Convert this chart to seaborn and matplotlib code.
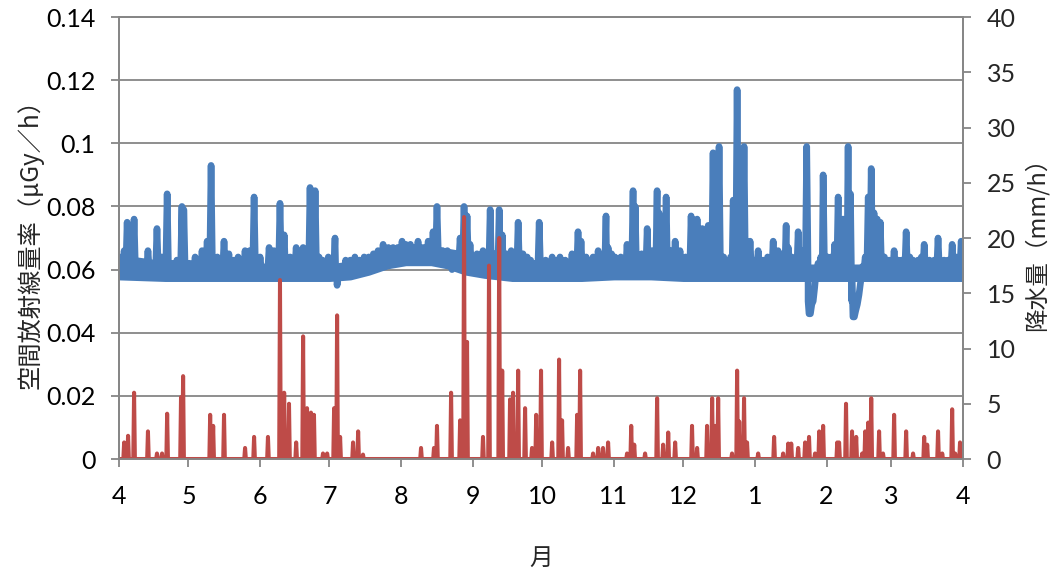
import numpy as np
import pandas as pd
import matplotlib
matplotlib.use('Agg')
import matplotlib.pyplot as plt
import seaborn as sns

sns.set_style('white')
plt.rcParams['font.family'] = ['Lato', 'Noto Sans CJK JP', 'DejaVu Sans']

BLUE = '#4a7ebb'
RED = '#be4b48'
GREY = '#868686'
JP = ['Noto Sans CJK JP', 'DejaVu Sans']

# x axis: days counted from 1 April, one tick per month start
start = pd.Timestamp('2012-04-01')
month_starts = pd.date_range(start, '2013-04-01', freq='MS')
month_days = list((month_starts - start).days)
month_labels = [str(m) for m in month_starts.month]

# air dose rate (uGy/h): spikes (day, peak)
rad_day = [2.2, 3.5, 6.5, 12.5, 16.4, 20.8, 27.2, 28.0, 32.9, 35.9, 38.1, 39.8,
           45.4, 49.7, 54.5, 58.4, 64.9, 69.6, 71.4, 76.6, 79.6, 82.6, 84.8, 88.0,
           93.4, 94.3, 98.0, 102.0, 106.0, 110.0, 114.2, 118.5, 122.4, 126.0, 129.3,
           133.7, 135.8, 137.5, 142.0, 144.0, 147.5, 149.2, 150.5, 151.8, 154.8,
           157.4, 160.5, 164.4, 165.7, 169.6, 172.6, 174.7, 178.0, 181.7, 187.3,
           190.7, 195.9, 198.5, 199.8, 205.0, 207.2, 210.6, 211.5, 214.5, 219.7,
           222.3, 223.2, 228.4, 232.7, 233.5, 236.6, 240.5, 242.6, 247.4, 250.0,
           252.2, 254.8, 256.9, 259.5, 263.0, 265.6, 267.3, 270.3, 272.9, 276.4,
           282.9, 285.0, 288.5, 289.4, 293.7, 297.4, 302.3, 304.5, 308.0, 311.0,
           313.1, 315.3, 316.3, 322.7, 324.0, 325.3, 327.9, 329.2, 335.2, 340.4,
           343.4, 348.2, 354.2, 356.8, 360.3, 364.2]
rad_peak = [0.066, 0.075, 0.076, 0.066, 0.073, 0.084, 0.080, 0.079, 0.064, 0.066, 0.069, 0.093,
            0.069, 0.063, 0.066, 0.083, 0.067, 0.081, 0.071, 0.067, 0.067, 0.086, 0.085, 0.063,
            0.070, 0.055, 0.063, 0.064, 0.064, 0.065, 0.068, 0.067, 0.069, 0.068, 0.069,
            0.069, 0.072, 0.080, 0.066, 0.060, 0.070, 0.080, 0.077, 0.068, 0.065,
            0.066, 0.079, 0.079, 0.071, 0.066, 0.075, 0.065, 0.063, 0.075, 0.064,
            0.064, 0.065, 0.072, 0.069, 0.064, 0.066, 0.077, 0.067, 0.064, 0.068,
            0.085, 0.080, 0.073, 0.085, 0.078, 0.083, 0.069, 0.066, 0.077, 0.076,
            0.073, 0.074, 0.097, 0.099, 0.062, 0.082, 0.117, 0.099, 0.069, 0.066,
            0.069, 0.066, 0.074, 0.067, 0.072, 0.099, 0.062, 0.090, 0.064, 0.083,
            0.076, 0.099, 0.084, 0.064, 0.083, 0.092, 0.076, 0.075, 0.066, 0.072,
            0.063, 0.068, 0.070, 0.063, 0.068, 0.069]

# small bumps that make the everyday band ragged
bump_day = [1.0, 5.0, 8.5, 10.5, 14.5, 18.5, 23.0, 25.0, 30.5, 34.3, 42.5, 47.5,
            51.5, 56.5, 61.0, 67.0, 74.0, 78.0, 81.0, 86.5, 90.5, 96.5, 100.0, 104.0,
            108.0, 112.0, 116.5, 120.5, 124.0, 128.0, 131.5, 140.0, 146.0, 153.0,
            156.0, 159.0, 162.5, 167.5, 171.0, 176.5, 180.0, 184.5, 189.0, 193.0,
            197.0, 202.0, 209.0, 213.0, 217.0, 221.0, 226.0, 230.5, 235.0, 238.5,
            245.0, 248.8, 253.5, 258.0, 261.5, 264.5, 269.0, 274.5, 278.5, 280.5,
            283.8, 287.0, 291.0, 295.5, 303.5, 306.5, 309.5, 312.0, 314.2, 321.5,
            326.5, 331.0, 333.0, 337.0, 338.5, 342.0, 345.5, 347.0, 350.5, 352.5,
            358.5, 362.0]
bump_val = [0.064, 0.063, 0.061, 0.062, 0.062, 0.064, 0.062, 0.063, 0.062, 0.063, 0.064, 0.065,
            0.064, 0.066, 0.064, 0.066, 0.064, 0.065, 0.064, 0.064, 0.064, 0.061, 0.063, 0.063,
            0.064, 0.066, 0.067, 0.067, 0.068, 0.067, 0.067, 0.066, 0.065, 0.064,
            0.063, 0.064, 0.065, 0.065, 0.063, 0.064, 0.062, 0.063, 0.063, 0.063,
            0.063, 0.064, 0.064, 0.065, 0.064, 0.067, 0.065, 0.066, 0.068, 0.066,
            0.064, 0.066, 0.066, 0.066, 0.064, 0.064, 0.068, 0.063, 0.063, 0.064,
            0.064, 0.065, 0.064, 0.066, 0.064, 0.064, 0.068, 0.070, 0.072, 0.061,
            0.078, 0.064, 0.063, 0.063, 0.063, 0.064, 0.063, 0.064, 0.063, 0.063,
            0.063, 0.064]

# winter dips below the usual level
dip_day = [298.0, 298.4, 299.0, 299.6, 300.2, 300.8, 301.3,
           316.9, 317.4, 318.0, 318.6, 319.3, 320.0, 320.7]
dip_val = [0.050, 0.046, 0.046, 0.049, 0.050, 0.054, 0.058,
           0.050, 0.045, 0.045, 0.047, 0.049, 0.052, 0.056]

# usual level the spikes start from, by season (step changes)
base_start = [0, 105, 116, 142, 158]
base_val = [0.0595, 0.061, 0.0645, 0.062, 0.0595]

# spread of the hourly noise band
band_day = [0, 20, 45, 70, 91, 100, 108, 116, 124, 135, 142, 150, 158, 170,
            185, 200, 214, 230, 244, 260, 275, 290, 306, 320, 334, 350, 365]
band_lo = [0.0575, 0.057, 0.057, 0.057, 0.057, 0.0575, 0.059, 0.061, 0.062, 0.062,
           0.061, 0.059, 0.058, 0.057, 0.057, 0.057, 0.0575, 0.0575, 0.057, 0.057,
           0.057, 0.057, 0.057, 0.057, 0.057, 0.057, 0.057]
band_hi = [0.064, 0.062, 0.062, 0.061, 0.061, 0.062, 0.064, 0.066, 0.067, 0.067,
           0.066, 0.065, 0.063, 0.062, 0.062, 0.062, 0.063, 0.063, 0.062, 0.062,
           0.062, 0.061, 0.061, 0.061, 0.060, 0.060, 0.060]

# precipitation (mm/h): rain events (day, peak)
rain_day = [2.2, 3.9, 6.5, 12.5, 16.4, 18.6, 20.8, 26.8, 27.7, 39.4, 40.7, 45.4,
            54.5, 58.4, 64.4, 69.6, 71.4, 73.5, 76.6, 79.6, 81.3, 83.0, 84.3, 88.2,
            90.0, 93.0, 94.3, 95.6, 101.2, 103.4, 105.5, 130.6, 136.2, 137.5, 143.6,
            147.5, 149.2, 150.5, 157.4, 160.0, 164.4, 165.7, 169.1, 170.4, 172.6,
            175.6, 178.6, 180.4, 182.5, 187.3, 190.3, 191.6, 194.2, 198.1, 199.4,
            205.0, 207.2, 209.3, 211.5, 219.7, 221.5, 222.8, 227.5, 232.7, 235.3,
            237.5, 240.5, 247.8, 250.0, 254.3, 256.5, 257.8, 259.1, 265.1, 267.3,
            268.2, 270.3, 271.6, 276.4, 283.3, 287.2, 289.4, 290.7, 293.7, 296.7,
            298.4, 301.0, 302.8, 304.5, 310.6, 311.4, 314.4, 317.0, 318.8, 321.4,
            322.7, 324.0, 325.3, 328.7, 330.4, 335.2, 340.4, 343.4, 348.2, 349.5,
            354.2, 356.0, 360.3, 361.6, 363.7]
rain_val = [1.5, 2.1, 6.0, 2.5, 0.5, 0.5, 4.1, 5.6, 7.5, 4.0, 3.0, 4.0,
            1.0, 2.0, 2.0, 16.2, 6.0, 5.0, 1.5, 11.1, 4.6, 4.2, 4.0, 0.5,
            0.5, 4.6, 13.0, 2.0, 1.5, 2.5, 0.4, 1.0, 1.0, 3.0, 6.0,
            3.5, 21.9, 10.6, 2.0, 17.5, 20.0, 8.0, 5.4, 6.0, 8.0,
            4.6, 1.0, 4.0, 8.0, 1.5, 9.0, 3.5, 1.0, 4.0, 8.0,
            0.5, 1.0, 1.0, 1.5, 0.5, 3.0, 1.3, 0.5, 5.5, 1.3,
            2.4, 1.5, 3.0, 1.0, 3.0, 5.5, 3.0, 5.5, 0.5, 8.0,
            3.4, 5.5, 1.5, 0.5, 2.0, 0.5, 1.4, 1.4, 1.0, 1.5,
            2.0, 0.5, 2.5, 3.0, 1.5, 1.5, 5.0, 2.5, 2.0, 0.5,
            2.5, 3.3, 5.5, 2.5, 0.5, 4.0, 2.5, 0.5, 2.0, 1.3,
            2.5, 0.5, 4.5, 0.5, 1.5]


def spikes(days, peaks, feet, half):
    xs, ys = [], []
    for d, p, f in zip(days, peaks, feet):
        xs += [d - half, d, d + half]
        ys += [f, p, f]
    return xs, ys


def base_at(days):
    return [base_val[np.searchsorted(base_start, d, side='right') - 1] for d in days]


sx, sy = spikes(rad_day, rad_peak, base_at(rad_day), 0.6)
bx, by = spikes(bump_day, bump_val, base_at(bump_day), 0.6)
rad_df = pd.DataFrame({'day': [0] + sx + bx + dip_day + [365],
                       'val': [0.061] + sy + by + dip_val + [0.0585]})
rad_df = rad_df.sort_values('day', kind='stable')

rx, ry = spikes(rain_day, rain_val, [0] * len(rain_day), 0.35)
rain_df = pd.DataFrame({'day': [0] + rx + [365], 'val': [0] + ry + [0]})
rain_df = rain_df.sort_values('day', kind='stable')

fig = plt.figure(figsize=(10.62, 5.77), dpi=100)
ax = fig.add_axes([0.1121, 0.2045, 0.7947, 0.766])

ax.fill_between(band_day, band_lo, band_hi, color=BLUE, linewidth=3.5, zorder=2)
sns.lineplot(data=rad_df, x='day', y='val', ax=ax, color=BLUE,
             sort=False, estimator=None, zorder=3)
rad_line = ax.lines[-1]
rad_line.set_linewidth(4.8)
rad_line.set_solid_joinstyle('round')
rad_line.set_solid_capstyle('round')

ax2 = ax.twinx()
sns.lineplot(data=rain_df, x='day', y='val', ax=ax2, color=RED,
             sort=False, estimator=None)
rain_line = ax2.lines[-1]
rain_line.set_linewidth(2.9)
rain_line.set_solid_joinstyle('round')

ax.set_xlim(0, 365)
ax.set_ylim(0, 0.14)
ax2.set_ylim(0, 40)
yt = np.arange(0, 0.141, 0.02)
ax.set_yticks(yt)
ax.set_yticklabels([f'{v:g}' for v in np.round(yt, 2)])
ax2.set_yticks(range(0, 41, 5))
ax.set_xticks(month_days)
ax.set_xticklabels(month_labels)

ax.yaxis.grid(True, color=GREY, lw=1.3)
ax.xaxis.grid(False)
ax.set_axisbelow(True)

for a in (ax, ax2):
    for s in a.spines.values():
        s.set_color(GREY)
        s.set_linewidth(1.3)
        s.set_visible(True)
ax.tick_params(axis='both', which='major', direction='out', length=6, width=1.3,
               color=GREY, labelsize=18, labelcolor='black')
ax.tick_params(axis='y', pad=11, left=True)
ax.tick_params(axis='x', pad=13, bottom=True)
ax2.tick_params(axis='y', direction='out', length=6, width=1.3, color=GREY,
                labelsize=18, pad=11, right=True)

ax.set_ylabel('空間放射線量率（μGy／h）', fontsize=17.5, family=JP, labelpad=2)
ax2.set_ylabel('降水量（mm/h）', fontsize=17, family=JP, labelpad=6)
ax.set_xlabel('月', fontsize=17, family=JP, labelpad=28)

fig.savefig('out.png', dpi=100)
plt.close(fig)
